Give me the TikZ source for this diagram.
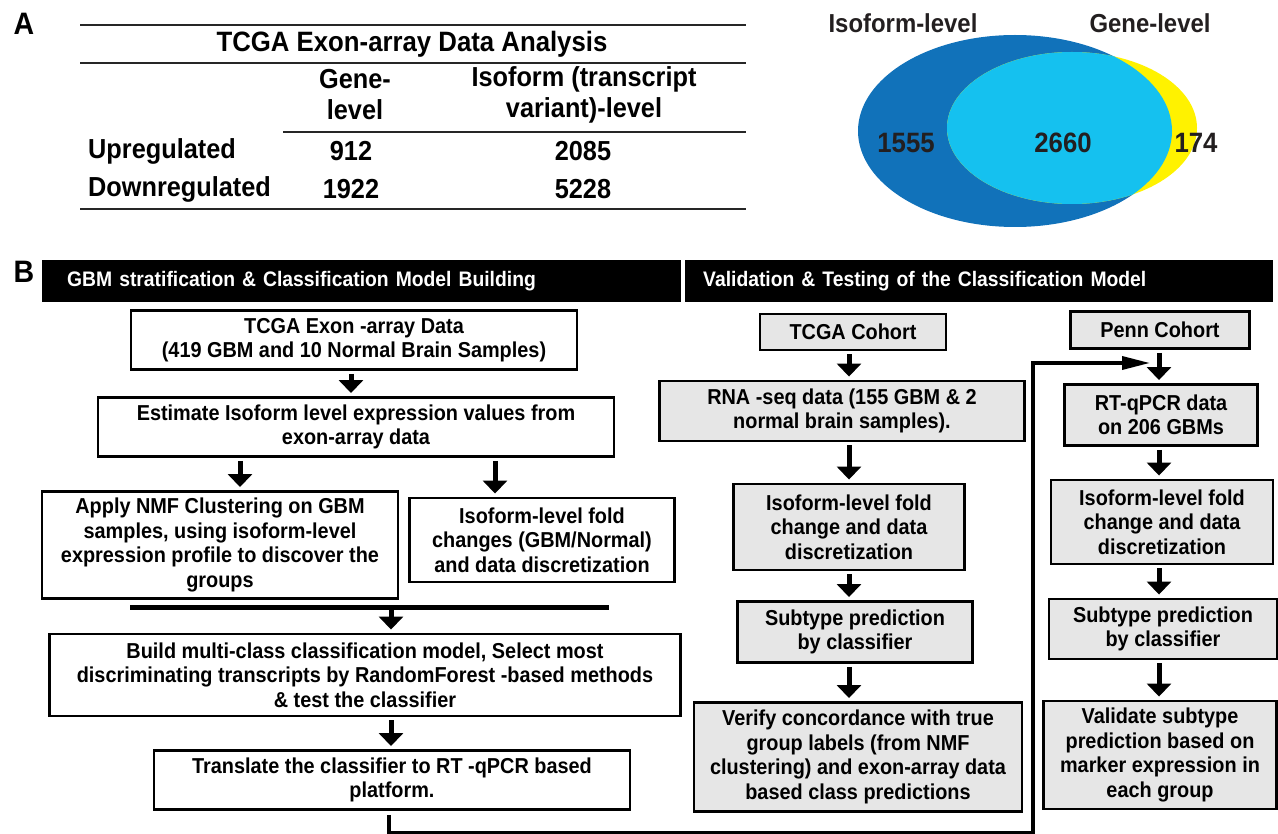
\documentclass[tikz,border=0pt]{standalone}
\usepackage{fontspec}
\setmainfont[FakeStretch=0.92]{Liberation Sans}
\usetikzlibrary{positioning, arrows.meta}

\definecolor{isoblue}{HTML}{1172BA}
\definecolor{overlapcyan}{HTML}{15C1EF}
\definecolor{geneyellow}{HTML}{FFF200}
\definecolor{boxgray}{HTML}{E6E6E6}
\definecolor{numdark}{HTML}{231F20}

\newcommand{\boxfont}{\fontsize{21.6}{24.5}\selectfont\bfseries}
\newcommand{\tabfont}{\fontsize{27.5}{31}\selectfont\bfseries}

\begin{document}
\begin{tikzpicture}[
		x=1pt, y=-1pt,
		box/.style={draw=black, line width=2.9pt, fill=white, align=center, inner sep=1pt, font=\boxfont},
		graybox/.style={box, fill=boxgray},
		flow/.style={line width=5pt, shorten <=3pt, shorten >=3pt, -{Triangle[width=24pt,length=13pt]}},
		route/.style={line width=3.5pt, -{Triangle[width=13pt,length=28pt]}},
		bar/.style={fill=black, text=white, anchor=north west, align=left,
			minimum height=42pt, font=\fontsize{21}{24}\selectfont\bfseries},
		tab/.style={font=\tabfont, align=center, inner sep=0pt},
		rule/.style={line width=1.6pt, draw=black!85},
		vnum/.style={font=\fontsize{28}{30}\selectfont\bfseries, text=numdark, inner sep=0pt},
		panel/.style={font=\fontsize{31}{32}\selectfont\bfseries, inner sep=0pt}
		]
		\useasboundingbox (0,0) rectangle (1278,834);
		
		% Panel A: table
		\node[panel] (labA) at (24,24) {A};
		\node[tab, font=\fontsize{28}{30}\selectfont\bfseries] (title) at (412,44) {TCGA Exon-array Data Analysis};
		\node[tab] (hgene) at (355,95) {Gene-\\level};
		\node[tab] (hiso) at (584,95) {Isoform (transcript\\variant)-level};
		\node[tab, anchor=west] (up) at (88,151) {Upregulated};
		\node[tab, anchor=west] (down) at (88,189) {Downregulated};
		\node[tab] (up1) at (351,151) {912};
		\node[tab] (up2) at (583,151) {2085};
		\node[tab] (down1) at (351,189) {1922};
		\node[tab] (down2) at (583,189) {5228};
		\draw[rule] (80,25) -- (746,25);
		\draw[rule] (80,63) -- (746,63);
		\draw[rule] (283,132) -- (746,132);
		\draw[rule] (80,209) -- (746,209);
		
		% Panel A: Venn
		\fill[isoblue] (1015,131) ellipse [x radius=157pt, y radius=96pt];
		\fill[geneyellow] (1072,128) ellipse [x radius=125pt, y radius=76pt];
		\begin{scope}
			\clip (1015,131) ellipse [x radius=157pt, y radius=96pt];
			\fill[overlapcyan] (1072,128) ellipse [x radius=125pt, y radius=76pt];
		\end{scope}
		\node[tab, text=numdark, font=\fontsize{26}{28}\selectfont\bfseries] (isolab) at (903,23) {Isoform-level};
		\node[tab, text=numdark, font=\fontsize{26}{28}\selectfont\bfseries] (genelab) at (1150,23) {Gene-level};
		\node[vnum] (n1555) at (906,143) {1555};
		\node[vnum] (n2660) at (1063,143) {2660};
		\node[vnum] (n174) at (1196,143) {174};
		
		% Panel B: headers
		\node[panel] (labB) at (24,272) {B};
		\node[bar, inner xsep=25pt, text width=589pt] (barL) at (42,260) {GBM stratification \& Classification Model Building};
		\node[bar, inner xsep=18pt, text width=552pt] (barR) at (685,260) {Validation \& Testing of the Classification Model};
		
		% left column
		\node[box, minimum width=446pt, minimum height=59pt] (exon) at (354,340)
			{TCGA Exon -array Data\\(419 GBM and 10 Normal Brain Samples)};
		\node[box, minimum width=516pt, minimum height=59pt] (estim) at (356,427)
			{Estimate Isoform level expression values from\\exon-array data};
		\node[box, minimum width=356pt, minimum height=107pt] (nmf) at (220,545)
			{Apply NMF Clustering on GBM\\samples, using isoform-level\\expression profile to discover the\\groups};
		\node[box, minimum width=265pt, minimum height=84pt] (fold) at (542,540)
			{Isoform-level fold\\changes (GBM/Normal)\\and data discretization};
		\node[box, minimum width=631pt, minimum height=82pt] (build) at (365,675)
			{Build multi-class classification model, Select most\\discriminating transcripts  by RandomForest -based methods\\\& test the classifier};
		\node[box, minimum width=476pt, minimum height=59pt] (transl) at (392,780)
			{Translate the classifier to RT -qPCR  based\\platform.};
		
		% middle column: TCGA cohort
		\node[graybox, minimum width=186pt, minimum height=36pt] (tcga) at (853,332) {TCGA Cohort};
		\node[graybox, minimum width=365pt, minimum height=60pt] (rnaseq) at (842,411)
			{RNA -seq data (155 GBM \& 2\\normal brain  samples).};
		\node[graybox, minimum width=231pt, minimum height=86pt] (tfold) at (849,527)
			{Isoform-level fold\\change and data\\discretization};
		\node[graybox, minimum width=235pt, minimum height=61pt] (tpred) at (855,632)
			{Subtype prediction\\by classifier};
		\node[graybox, minimum width=328pt, minimum height=109pt] (verify) at (858,757)
			{Verify concordance with true\\group labels (from NMF\\clustering) and exon-array data\\based class predictions};
		
		% right column: Penn cohort
		\node[graybox, minimum width=179pt, minimum height=37pt] (penn) at (1160,330) {Penn Cohort};
		\node[graybox, minimum width=193pt, minimum height=61pt] (rtq) at (1161,415)
			{RT-qPCR  data\\on 206 GBMs};
		\node[graybox, minimum width=222pt, minimum height=84pt] (pfold) at (1162,522)
			{Isoform-level fold\\change and data\\discretization};
		\node[graybox, minimum width=228pt, minimum height=60pt] (ppred) at (1163,629)
			{Subtype prediction\\by classifier};
		\node[graybox, minimum width=233pt, minimum height=108pt] (valid) at (1160,755)
			{Validate subtype\\prediction based on\\marker expression in\\each group};
		
		% arrow columns
		\coordinate (ax1) at (351,0);
		\coordinate (ax2) at (240,0);
		\coordinate (ax3) at (495,0);
		\coordinate (ax4) at (391,0);
		\coordinate (ax5) at (389,0);
		\coordinate (axm) at (849,0);
		\coordinate (axr) at (1159,0);
		\coordinate (mergeL) at (130,607);
		\coordinate (mergeR) at (609,607);
		\coordinate (routecorner) at (1033,833);
		\coordinate (penntip) at (1150,363);
		
		% connectors
		\draw[flow] (exon.south -| ax1) -- (estim.north -| ax1);
		\draw[flow] (estim.south -| ax2) -- (nmf.north -| ax2);
		\draw[flow] (estim.south -| ax3) -- (fold.north -| ax3);
		\draw[line width=5pt] (mergeL) -- (mergeR);
		\draw[flow, shorten <=0pt] (mergeL -| ax4) -- (build.north -| ax4);
		\draw[flow] (build.south -| ax4) -- (transl.north -| ax4);
		\draw[route, shorten <=4pt] (transl.south -| ax5) |- (routecorner) |- (penntip);
		
		\draw[flow] (tcga.south -| axm) -- (rnaseq.north -| axm);
		\draw[flow] (rnaseq.south -| axm) -- (tfold.north -| axm);
		\draw[flow] (tfold.south -| axm) -- (tpred.north -| axm);
		\draw[flow] (tpred.south -| axm) -- (verify.north -| axm);
		
		\draw[flow] (penn.south -| axr) -- (rtq.north -| axr);
		\draw[flow] (rtq.south -| axr) -- (pfold.north -| axr);
		\draw[flow] (pfold.south -| axr) -- (ppred.north -| axr);
		\draw[flow] (ppred.south -| axr) -- (valid.north -| axr);
		
	\end{tikzpicture}
\end{document}
